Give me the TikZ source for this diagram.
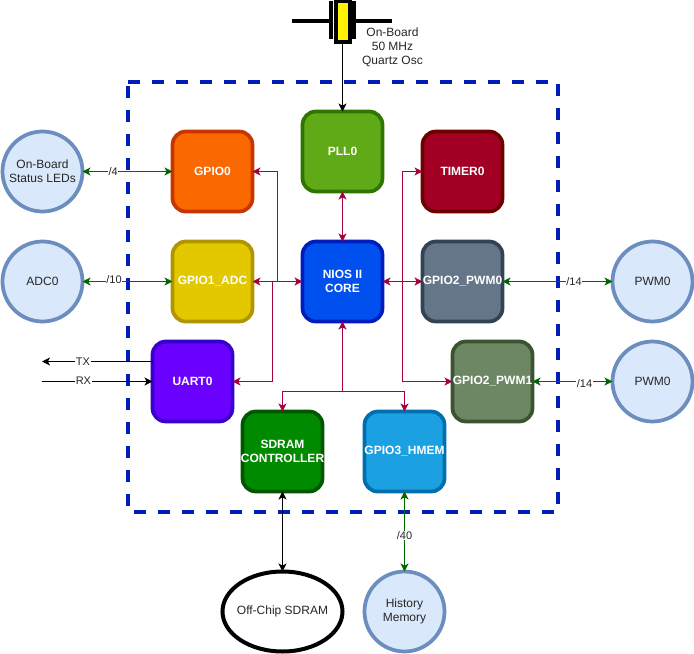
\documentclass[tikz,border=0pt]{standalone}
\usepackage{fontspec}
\setmainfont{Liberation Sans}
\usetikzlibrary{arrows.meta,shapes.geometric}
\definecolor{mag}{HTML}{A50040}
\definecolor{dgreen}{HTML}{006600}
\definecolor{dashblue}{HTML}{001DBC}
\definecolor{discfill}{HTML}{DAE8FC}
\definecolor{discline}{HTML}{6C8EBF}
\tikzset{
  x=0.75pt,y=-0.75pt,
  tip/.style={-{Stealth[length=6pt,width=6pt,inset=1.6pt]}},
  both/.style={{Stealth[length=6pt,width=6pt,inset=1.6pt]}-{Stealth[length=6pt,width=6pt,inset=1.6pt]}},
  block/.style 2 args={draw={rgb,255:#2},fill={rgb,255:#1},line width=2.8pt,rounded corners=10pt,minimum width=60pt,minimum height=60pt,inner sep=0pt,outer sep=0pt,align=center,text=white,font=\fontsize{9}{10.5}\selectfont\bfseries},
  disc/.style={circle,draw=discline,fill=discfill,line width=2.8pt,minimum size=60pt,inner sep=0pt,outer sep=0pt,align=center,text=black!85,font=\fontsize{9}{10.5}\selectfont},
  lab/.style={fill=white,inner sep=0.6pt,text=black!85,font=\fontsize{8.25}{10}\selectfont},
  magw/.style={draw=mag,line width=0.75pt},
  grnw/.style={draw=dgreen,line width=0.75pt},
  blkw/.style={draw=black,line width=0.75pt},
}
\begin{document}
\begin{tikzpicture}
\useasboundingbox (0,0) rectangle (694,654);
% frame
\draw[dashblue,line width=3pt,dash pattern=on 9pt off 9pt] (127.5,81.5) -- (557.5,81.5) -- (557.5,511.5) -- (127.5,511.5) -- cycle;
% blocks
\node[block={red,250;green,104;blue,0}{red,199;green,53;blue,0}] (gpio0) at (212.5,171.5) {GPIO0};
\node[block={red,96;green,169;blue,23}{red,45;green,118;blue,0}] (pll) at (342.5,151.5) {PLL0};
\node[block={red,162;green,0;blue,37}{red,111;green,0;blue,0}] (timer) at (462.5,171.5) {TIMER0};
\node[block={red,227;green,200;blue,0}{red,176;green,149;blue,0}] (gpio1) at (212.5,281.5) {GPIO1\_ADC};
\node[block={red,0;green,80;blue,239}{red,0;green,29;blue,188}] (nios) at (342.5,281.5) {NIOS II\\CORE};
\node[block={red,100;green,118;blue,135}{red,49;green,67;blue,84}] (pwm0) at (462.5,281.5) {GPIO2\_PWM0};
\node[block={red,106;green,0;blue,255}{red,55;green,0;blue,204}] (uart) at (192.5,381.5) {UART0};
\node[block={red,109;green,135;blue,100}{red,58;green,84;blue,49}] (pwm1) at (492.5,381.5) {GPIO2\_PWM1};
\node[block={red,0;green,138;blue,0}{red,0;green,87;blue,0}] (sdram) at (282.5,451.5) {SDRAM\\\makebox[0pt][c]{CONTROLLER}};
\node[block={red,27;green,161;blue,226}{red,0;green,110;blue,175}] (hmem) at (404.5,451.5) {GPIO3\_HMEM};
% discs
\node[disc] (leds) at (42.5,171.5) {On-Board\\Status LEDs};
\node[disc] (adc) at (42.5,281.5) {ADC0};
\node[disc] (pwma) at (652.5,281.5) {PWM0};
\node[disc] (pwmb) at (652.5,381.5) {PWM0};
\node[disc] (hist) at (404.5,611.5) {History\\Memory};
\node[ellipse,draw=black,line width=3pt,fill=white,minimum width=90pt,minimum height=60pt,inner sep=0pt,outer sep=0pt,label={[text=black!85,font=\fontsize{9}{10.5}\selectfont]center:Off-Chip SDRAM}] (offchip) at (282.5,611.5) {};
% crystal
\coordinate (leadl) at (292,21);
\coordinate (leadr) at (392,21);
\coordinate (plateltop) at (331.2,1);
\coordinate (platelbot) at (331.2,39);
\coordinate (platertop) at (353.6,1);
\coordinate (platerbot) at (353.6,39);
\draw[black,line width=3pt] (leadl) -- (331,21) (354,21) -- (leadr);
\draw[black,line width=3pt] (plateltop) -- (platelbot) (platertop) -- (platerbot);
\node[draw=black,fill=yellow,line width=3pt,minimum width=10.5pt,minimum height=30.5pt,inner sep=0pt,outer sep=0pt] (xtal) at (342.5,21.5) {};
\node[inner sep=0pt,align=center,text=black!85,font=\fontsize{9}{10.5}\selectfont] (osc) at (392.5,47.5) {On-Board\\50 MHz\\Quartz Osc};
\draw[blkw,tip] (xtal.south) -- (pll.north);
% internal bus
\coordinate (busa) at (277.5,281.5);
\coordinate (busb) at (272.5,281.5);
\coordinate (busc) at (402.5,281.5);
\coordinate (busd) at (342.5,391.5);
\draw[magw,both] (gpio1.east) -- (nios.west);
\draw[magw,tip] (busa) |- (gpio0.east);
\draw[magw,tip] (busb) |- (uart.east);
\draw[magw,both] (pll.south) -- (nios.north);
\draw[magw,both] (nios.east) -- (pwm0.west);
\draw[magw,tip] (busc) |- (timer.west);
\draw[magw,tip] (busc) |- (pwm1.west);
\draw[magw,tip] (busd) -- (nios.south);
\draw[magw,tip] (busd) -| (sdram.north);
\draw[magw,tip] (busd) -| (hmem.north);
% external links
\draw[grnw,both] (leds.east) -- node[lab,pos=0.34] {/4} (gpio0.west);
\draw[grnw,both] (adc.east) -- node[lab,pos=0.35,yshift=1.5pt] {/10} (gpio1.west);
\draw[grnw,both] (pwm0.east) -- node[lab,pos=0.65] {/14} (pwma.west);
\draw[grnw,both] (pwm1.east) -- node[lab,pos=0.65,yshift=-1.2pt] {/14} (pwmb.west);
\draw[grnw,both] (hmem.south) -- node[lab,pos=0.55] {/40} (hist.north);
\draw[blkw,both] (sdram.south) -- (offchip.north);
\coordinate (txend) at (42,361.5);
\coordinate (rxend) at (42,381.5);
\draw[blkw,tip] (uart.west |- txend) -- node[lab,pos=0.63] {TX} (txend);
\draw[blkw,tip] (rxend) -- node[lab,pos=0.375,yshift=0.8pt] {RX} (uart.west);
\end{tikzpicture}
\end{document}
